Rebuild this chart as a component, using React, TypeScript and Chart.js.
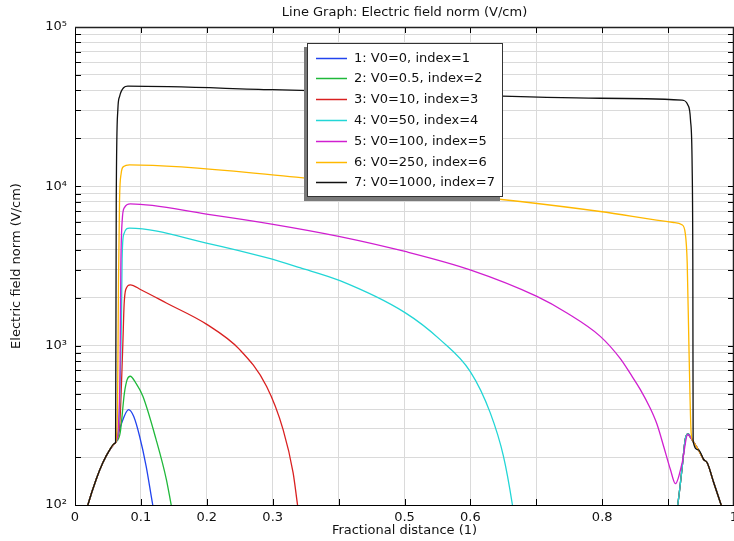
import React, { useEffect, useRef } from 'react';
import { Chart, registerables } from 'chart.js';

Chart.register(...registerables);

const FONT = "'DejaVu Sans', sans-serif";

const chartTitle = 'Line Graph: Electric field norm (V/cm)';
const xAxisTitle = 'Fractional distance (1)';
const yAxisTitle = 'Electric field norm (V/cm)';

const seriesLabels = [
  '1: V0=0, index=1',
  '2: V0=0.5, index=2',
  '3: V0=10, index=3',
  '4: V0=50, index=4',
  '5: V0=100, index=5',
  '6: V0=250, index=6',
  '7: V0=1000, index=7',
];
const seriesColors = ['#2244ee', '#1fb83a', '#d92020', '#22d6d6', '#d01fd0', '#ffb800', '#111111'];

const xTickValues = [0, 0.1, 0.2, 0.3, 0.4, 0.5, 0.6, 0.7, 0.8, 0.9, 1];
const xTickLabels = ['0', '0.1', '0.2', '0.3', '', '0.5', '0.6', '', '0.8', '', '1'];
const yTickValues = [
  100, 200, 300, 400, 500, 600, 700, 800, 900,
  1000, 2000, 3000, 4000, 5000, 6000, 7000, 8000, 9000,
  10000, 20000, 30000, 40000, 50000, 60000, 70000, 80000, 90000,
  100000,
];
const yPowerValues = [100, 1000, 10000, 100000];
const yPowerLabels = ['10²', '10³', '10⁴', '10⁵'];

// shared rise from the left boundary
const leftRiseX = [0.005, 0.0195, 0.0322, 0.0422, 0.0524, 0.06, 0.0616];
const leftRiseY = [60, 100, 145, 184, 221, 243, 247];

// shared tail toward the right boundary
const rightTailX = [0.938, 0.946, 0.954, 0.9593, 0.9693, 0.9805, 0.995];
const rightTailY = [251, 222, 193, 184, 138, 100, 65];

// shared right bump for the low-voltage curves
const rightBumpX = [0.905, 0.9146, 0.921, 0.926, 0.9304, 0.934];
const rightBumpY = [60, 100, 167, 258, 279, 266];

const s1X = [0.07, 0.0813, 0.089, 0.098, 0.108, 0.118, 0.124];
const s1Y = [320, 397, 360, 270, 175, 100, 75];

const s2X = [0.0686, 0.075, 0.079, 0.0838, 0.092, 0.103, 0.123, 0.1386, 0.146, 0.152];
const s2Y = [285, 505, 610, 643, 585, 481, 258, 145, 100, 75];

const s3X = [0.068, 0.0725, 0.0745, 0.077, 0.0839, 0.1, 0.1386, 0.1994, 0.25, 0.2906, 0.3158, 0.331, 0.3377, 0.343];
const s3Y = [330, 1000, 1800, 2250, 2410, 2244, 1853, 1365, 944, 556, 297, 159, 100, 70];

const s4X = [0.0665, 0.0705, 0.0715, 0.074, 0.0828, 0.1994, 0.2906, 0.3412, 0.402, 0.5008, 0.554, 0.5996, 0.63, 0.6502, 0.6638, 0.669];
const s4Y = [320, 1500, 3500, 5000, 5470, 4406, 3565, 3085, 2557, 1611, 1091, 690, 380, 202, 100, 70];

const s5X = [0.0655, 0.0685, 0.0695, 0.0715, 0.075, 0.0839, 0.1994, 0.3006, 0.402, 0.5008, 0.5996, 0.7009, 0.7465, 0.7971, 0.8275, 0.8427, 0.8579, 0.8731, 0.8833, 0.8933, 0.9035, 0.9111, 0.9213, 0.9298, 0.934];
const s5Y = [300, 800, 3000, 6000, 7350, 7762, 6700, 5780, 4840, 3900, 2990, 2037, 1603, 1144, 829, 667, 530, 403, 320, 233, 167, 136, 184, 277, 265];

const s6X = [0.0645, 0.066, 0.0676, 0.07, 0.0737, 0.0828, 0.326, 0.493, 0.6755, 0.797, 0.9085, 0.921, 0.926, 0.929, 0.9316, 0.935];
const s6Y = [400, 2500, 8200, 12000, 13300, 13650, 11520, 9680, 8030, 6950, 5930, 5740, 5090, 3300, 991, 283];

const s7X = [0.0626, 0.065, 0.0676, 0.0737, 0.0802, 0.3, 0.5, 0.797, 0.921, 0.93, 0.934, 0.9365, 0.9375];
const s7Y = [8220, 30200, 36600, 41600, 42500, 40400, 38500, 35700, 34800, 32400, 26100, 13300, 3460];

const seriesMidX = [
  [...s1X, ...rightBumpX],
  [...s2X, ...rightBumpX],
  [...s3X, ...rightBumpX],
  [...s4X, ...rightBumpX],
  s5X,
  s6X,
  s7X,
];
const seriesMidY = [
  [...s1Y, ...rightBumpY],
  [...s2Y, ...rightBumpY],
  [...s3Y, ...rightBumpY],
  [...s4Y, ...rightBumpY],
  s5Y,
  s6Y,
  s7Y,
];

function buildPoints(i: number) {
  const xs = [...leftRiseX, ...seriesMidX[i], ...rightTailX];
  const ys = [...leftRiseY, ...seriesMidY[i], ...rightTailY];
  return xs.map((x, k) => ({ x, y: ys[k] }));
}

const framePlugin = {
  id: 'frameAndLegend',
  afterDatasetsDraw(chart: any) {
    const { ctx, chartArea } = chart;
    const { left, right, top, bottom } = chartArea;
    const xs = chart.scales.x;
    const ys = chart.scales.y;
    ctx.save();
    ctx.strokeStyle = '#000';
    ctx.lineWidth = 1;
    ctx.beginPath();
    xs.ticks.forEach((t: any) => {
      const px = Math.round(xs.getPixelForValue(t.value)) + 0.5;
      ctx.moveTo(px, bottom);
      ctx.lineTo(px, bottom - 6);
      ctx.moveTo(px, top);
      ctx.lineTo(px, top + 6);
    });
    ys.ticks.forEach((t: any) => {
      const py = Math.round(ys.getPixelForValue(t.value)) + 0.5;
      ctx.moveTo(left, py);
      ctx.lineTo(left + 6, py);
      ctx.moveTo(right, py);
      ctx.lineTo(right - 6, py);
    });
    ctx.stroke();
    ctx.lineWidth = 1.5;
    ctx.strokeStyle = '#222';
    ctx.beginPath();
    ctx.moveTo(left, top + 0.5);
    ctx.lineTo(right, top + 0.5);
    ctx.moveTo(right - 0.5, top);
    ctx.lineTo(right - 0.5, bottom);
    ctx.stroke();
    ctx.restore();
  },
  afterDraw(chart: any) {
    const ctx = chart.ctx;
    const bx = 307, by = 43, bw = 196, bh = 154;
    ctx.save();
    ctx.fillStyle = '#7a7a7a';
    ctx.fillRect(bx - 3, by + 4, bw, bh);
    ctx.fillStyle = '#fff';
    ctx.fillRect(bx, by, bw, bh);
    ctx.strokeStyle = '#333';
    ctx.lineWidth = 1;
    ctx.strokeRect(bx + 0.5, by + 0.5, bw - 1, bh - 1);
    ctx.font = `13px ${FONT}`;
    ctx.textBaseline = 'middle';
    ctx.textAlign = 'left';
    seriesLabels.forEach((lab, i) => {
      const ry = Math.round(57.5 + i * 20.8) + 0.5;
      ctx.strokeStyle = seriesColors[i];
      ctx.lineWidth = 1.5;
      ctx.beginPath();
      ctx.moveTo(316, ry);
      ctx.lineTo(347, ry);
      ctx.stroke();
      ctx.fillStyle = '#111';
      ctx.fillText(lab, 354, ry + 0.5);
    });
    ctx.restore();
  },
};

export default function App() {
  const ref = useRef<HTMLCanvasElement>(null);
  useEffect(() => {
    document.body.style.margin = '0';
    const canvas = ref.current;
    if (!canvas) return;
    Chart.defaults.font.family = FONT;
    const datasets = seriesLabels.map((label, i) => ({
      label,
      data: buildPoints(i),
      borderColor: seriesColors[i],
      backgroundColor: seriesColors[i],
      borderWidth: 1.3,
      pointRadius: 0,
      fill: false,
      cubicInterpolationMode: 'monotone' as const,
      order: seriesLabels.length - 1 - i,
    }));
    const chart = new Chart(canvas, {
      type: 'line',
      data: { datasets },
      options: {
        animation: false,
        responsive: false,
        layout: { padding: 0 },
        plugins: {
          legend: { display: false },
          tooltip: { enabled: false },
          title: {
            display: true,
            text: chartTitle,
            fullSize: false,
            color: '#111',
            font: { family: FONT, size: 13, weight: 'normal' },
            padding: { top: 5, bottom: 6.4 },
          },
        },
        scales: {
          x: {
            type: 'linear',
            min: 0,
            max: 1,
            grid: { color: '#dadada', lineWidth: 1, drawTicks: false },
            border: { color: '#000', width: 1 },
            ticks: {
              padding: 5,
              color: '#111',
              autoSkip: false,
              maxRotation: 0,
              font: { family: FONT, size: 13 },
              callback: (v: any) => {
                const i = xTickValues.findIndex((t) => Math.abs(t - Number(v)) < 1e-9);
                return i >= 0 ? xTickLabels[i] : '';
              },
            },
            afterBuildTicks: (s: any) => {
              s.ticks = xTickValues.map((value) => ({ value }));
            },
            afterFit: (s: any) => {
              s.height = 36;
              s.paddingLeft = 0;
              s.paddingRight = 0;
            },
            title: {
              display: true,
              text: xAxisTitle,
              color: '#111',
              font: { family: FONT, size: 13 },
              padding: { top: 0, bottom: 2.2 },
            },
          },
          y: {
            type: 'logarithmic',
            min: 100,
            max: 100000,
            grid: { color: '#dadada', lineWidth: 1, drawTicks: false },
            border: { color: '#000', width: 1 },
            ticks: {
              padding: 8,
              color: '#111',
              autoSkip: false,
              font: { family: FONT, size: 13 },
              callback: (v: any) => {
                const i = yPowerValues.indexOf(Number(v));
                return i >= 0 ? yPowerLabels[i] : '';
              },
            },
            afterBuildTicks: (s: any) => {
              s.ticks = yTickValues.map((value) => ({ value, major: yPowerValues.includes(value) }));
            },
            afterFit: (s: any) => {
              s.width = 75;
              s.paddingTop = 0;
              s.paddingBottom = 0;
            },
            title: {
              display: true,
              text: yAxisTitle,
              color: '#111',
              font: { family: FONT, size: 13 },
              padding: { top: 9, bottom: 0 },
            },
          },
        },
      },
      plugins: [framePlugin],
    });
    return () => chart.destroy();
  }, []);
  return (
    <div style={{ width: 734, height: 541, position: 'relative', background: '#fff' }}>
      <canvas ref={ref} width={734} height={541} />
    </div>
  );
}
